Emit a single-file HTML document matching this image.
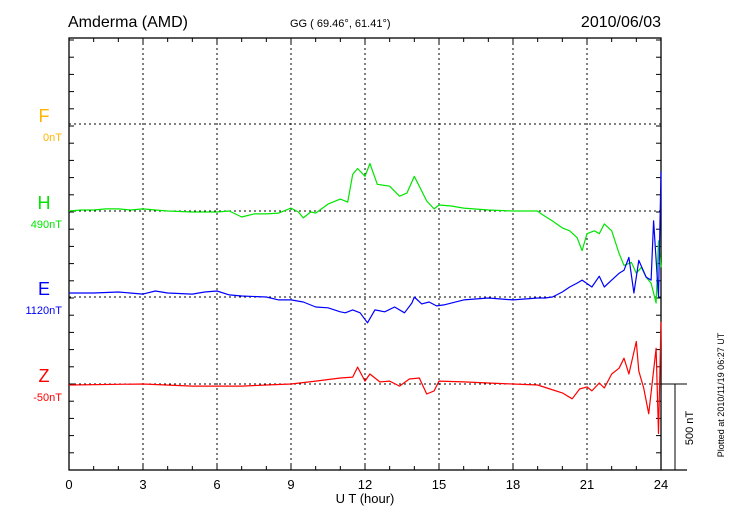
<!DOCTYPE html>
<html><head><meta charset="utf-8"><style>
body{margin:0;background:#fff;}
svg{display:block;font-family:"Liberation Sans",sans-serif;}
</style></head><body>
<svg id="chart" width="730" height="520">
<g id="frame"></g>
<g id="series"></g>
<g id="labels"></g>
<text x="68" y="27" font-size="16">Amderma (AMD)</text>
<text x="290" y="27" font-size="11">GG ( 69.46°,  61.41°)</text>
<text x="661" y="27" font-size="16" text-anchor="end">2010/06/03</text>
<text x="365" y="503" font-size="13" text-anchor="middle">U T (hour)</text>
<text transform="translate(693,428) rotate(-90)" font-size="11" text-anchor="middle">500 nT</text>
<text transform="translate(724,395) rotate(-90)" font-size="9" text-anchor="middle">Plotted at 2010/11/19 06:27 UT</text>
</svg>
<script>
// ---- data (nT deviation from baseline) ----
const hTimes=[0,0.5,1,1.5,2,2.5,3,3.5,4,5,6,6.5,7,7.5,8,8.5,9,9.3,9.5,9.8,10,10.5,11,11.3,11.5,11.7,12,12.2,12.5,13,13.4,13.7,14,14.2,14.5,14.8,15,15.5,16,17,18,19,19.1,19.6,20,20.3,20.6,20.8,21,21.3,21.5,21.7,22,22.3,22.5,22.8,23,23.2,23.4,23.6,23.8,23.9,24];
const hValues=[0,6,6,12,12,6,12,6,0,-6,-6,0,-35,-17,-17,-12,17,-6,-40,-6,-12,40,69,52,213,247,201,276,155,144,86,104,201,144,58,12,35,29,17,6,0,0,-12,-58,-98,-115,-155,-230,-132,-115,-132,-75,-115,-247,-316,-299,-362,-328,-385,-420,-535,-173,-328];
const eTimes=[0,1,2,3,3.5,4,5,5.5,6,6.5,7,8,8.5,9,9.5,10,10.5,11,11.2,11.5,11.8,12.1,12.4,12.8,13.2,13.6,13.9,14,14.3,14.6,14.9,15.2,16,17,18,19,19.3,19.6,20,20.3,20.6,20.8,21.2,21.5,21.7,22,22.3,22.5,22.7,22.9,23.1,23.4,23.6,23.7,23.9,24];
const eValues=[23,23,29,17,35,23,17,29,35,12,6,0,-17,-17,-29,-58,-63,-86,-92,-75,-92,-150,-75,-86,-58,-92,-35,0,-40,-29,-52,-46,-17,-6,-17,-6,-6,0,29,58,81,98,58,121,58,98,138,155,230,23,213,115,98,443,0,730];
const zTimes=[0,3,5,7,8,9,10,11,11.5,11.7,12,12.2,12.6,13,13.4,13.8,14.2,14.5,14.8,15,16,17,18,19,19.5,20,20.4,20.7,21,21.2,21.5,21.7,22,22.3,22.5,22.7,23,23.1,23.3,23.5,23.8,23.9,24];
const zValues=[-6,0,-12,-12,-6,0,17,35,40,98,17,58,12,17,-12,29,35,-58,-40,17,12,6,0,-6,-29,-52,-86,-29,-17,-40,6,-23,58,92,150,58,247,75,-23,-173,207,-288,362];
const xTickLabels=["0","3","6","9","12","15","18","21","24"];
const compNames=["F","H","E","Z"];
const compBaseLabels=["0nT","490nT","1120nT","-50nT"];

// ---- geometry ----
const X0=69,X1=661,Y0=38,Y1=470;
const bases=[124,211,297,384];
const colors=["#ffb400","#00e600","#0000ff","#ff0000"];
const pxPerNT=86/500;
const xs=t=>X0+(X1-X0)*t/24;
const ys=(v,i)=>bases[i]-v*pxPerNT;
const NS="http://www.w3.org/2000/svg";
function mk(tag,attrs,parent,text){const e=document.createElementNS(NS,tag);for(const k in attrs)e.setAttribute(k,attrs[k]);if(text!==undefined)e.textContent=text;parent.appendChild(e);return e;}
const frame=document.getElementById('frame'),ser=document.getElementById('series'),lab=document.getElementById('labels');

for(let h=3;h<24;h+=3){const l=mk('line',{x1:xs(h),x2:xs(h),y1:Y0,y2:Y1,stroke:'#000','stroke-width':1,'stroke-dasharray':'2,3'},frame);

}
bases.forEach(b=>{const l=mk('line',{x1:X0,x2:X1,y1:b,y2:b,stroke:'#000','stroke-width':1,'stroke-dasharray':'2,3'},frame);

});
const box=mk('rect',{x:X0,y:Y0,width:X1-X0,height:Y1-Y0,fill:'none',stroke:'#000','stroke-width':1.3},frame);


const ext=mk('line',{x1:X1,x2:687,y1:Y1,y2:Y1,stroke:'#000','stroke-width':1.3},frame);


for(let h=0;h<=24;h++){const len=h%3===0?6:4;
mk('line',{x1:xs(h),x2:xs(h),y1:Y0,y2:Y0+len,stroke:'#000'},frame);
mk('line',{x1:xs(h),x2:xs(h),y1:Y1,y2:Y1-len,stroke:'#000'},frame);}
for(let y=Y1;y>=Y0-1;y-=pxPerNT*100){
mk('line',{x1:X0,x2:X0+5,y1:y,y2:y,stroke:'#000'},frame);
mk('line',{x1:X1,x2:X1-5,y1:y,y2:y,stroke:'#000'},frame);}
xTickLabels.forEach((s,i)=>{const t=mk('text',{x:xs(i*3),y:489,'text-anchor':'middle','font-size':13},lab,s);

});
[[hTimes,hValues,1],[eTimes,eValues,2],[zTimes,zValues,3]].forEach(([T,V,i])=>{
const d=T.map((t,k)=>(k?'L':'M')+xs(t).toFixed(1)+','+ys(V[k],i).toFixed(1)).join('');
const p=mk('path',{d:d,fill:'none',stroke:colors[i],'stroke-width':1.2,'stroke-linejoin':'round'},ser);

});
compNames.forEach((n,i)=>{
const a=mk('text',{x:44,y:bases[i]-2,'text-anchor':'middle','font-size':18,fill:colors[i]},lab,n);


const b=mk('text',{x:62,y:bases[i]+17,'text-anchor':'end','font-size':11,fill:colors[i]},lab,compBaseLabels[i]);

});
const sb1=mk('line',{x1:X1,x2:687,y1:bases[3],y2:bases[3],stroke:'#000'},frame);


const sb2=mk('line',{x1:675,x2:675,y1:bases[3],y2:bases[3]+500*pxPerNT,stroke:'#000'},frame);


</script>
</body></html>
